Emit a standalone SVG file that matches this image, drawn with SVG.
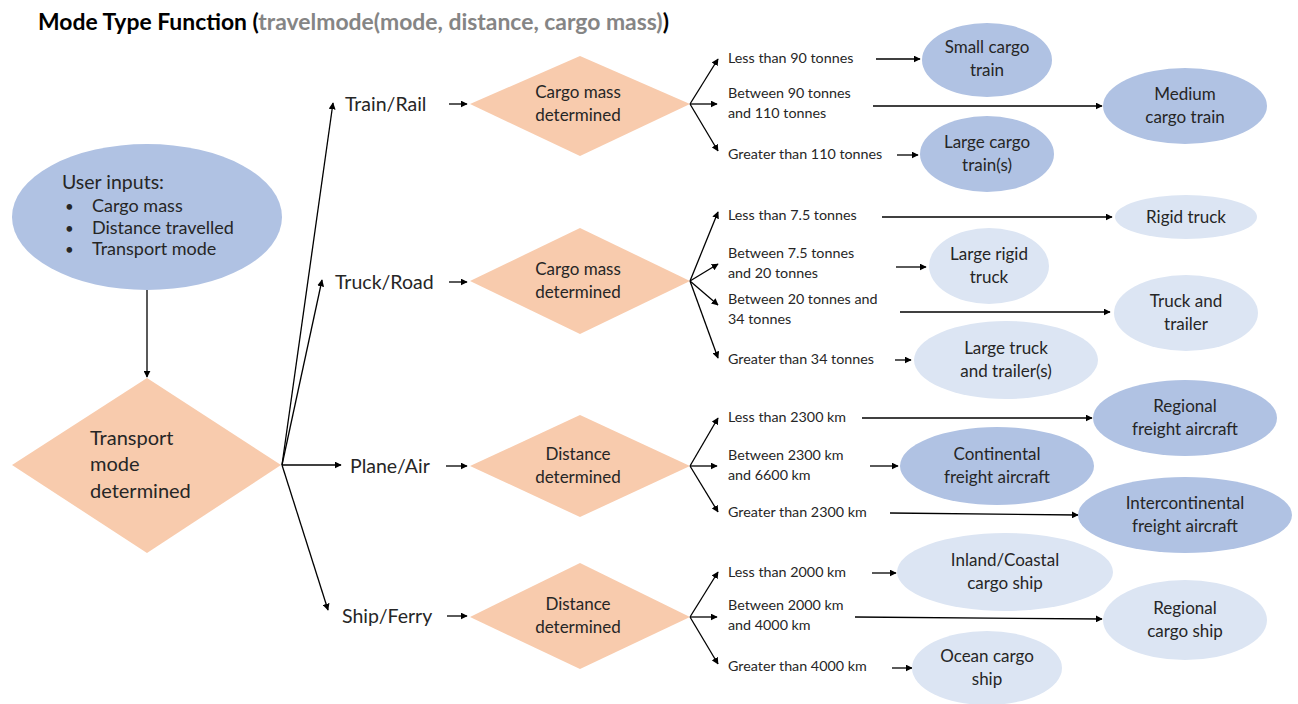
<svg xmlns="http://www.w3.org/2000/svg" width="1298" height="704" viewBox="0 0 1298 704">
  <defs>
    <marker id="arrow" viewBox="0 0 10 10" refX="9" refY="5" markerWidth="7" markerHeight="7" markerUnits="userSpaceOnUse" orient="auto">
      <path d="M0,0 L10,5 L0,10 z" fill="#000"/>
    </marker>
    <style>
      text { font-family: Lato, "Open Sans", "Liberation Sans", sans-serif; fill: #262626; }
      .title { font-size: 22.9px; font-weight: bold; fill: #000; }
      .gray { fill: #858585; }
      .dark { fill: #b0c2e3; }
      .light { fill: #dce5f3; }
      .diamond { fill: #f8cbad; }
      .node { font-size: 17px; text-anchor: middle; }
      .mode { font-size: 19.5px; }
      .dec { font-size: 17px; text-anchor: middle; }
      .cond { font-size: 14.3px; }
      .conn line { stroke: #000; stroke-width: 1.3; fill: none; marker-end: url(#arrow); }
    </style>
  </defs>
  <rect width="1298" height="704" fill="#fff"/>

  <!-- heading -->
  <text class="title" x="38" y="30">Mode Type Function (<tspan class="gray">travelmode(mode, distance, cargo mass)</tspan>)</text>

  <!-- connectors -->
  <g id="connectors" class="conn">
    <line x1="147" y1="290" x2="147" y2="377"/>
    <line x1="282" y1="465" x2="333" y2="103"/>
    <line x1="282" y1="465" x2="322" y2="280"/>
    <line x1="282" y1="465" x2="341" y2="465"/>
    <line x1="282" y1="465" x2="328" y2="610"/>
    <line x1="449" y1="104" x2="467" y2="104"/>
    <line x1="449" y1="282" x2="467" y2="282"/>
    <line x1="446" y1="466" x2="467" y2="466"/>
    <line x1="447" y1="616" x2="467" y2="616"/>
    <!-- rail branches -->
    <line x1="690" y1="104" x2="718" y2="59"/>
    <line x1="690" y1="104" x2="717" y2="104"/>
    <line x1="690" y1="104" x2="718" y2="151"/>
    <line x1="876" y1="59" x2="920" y2="59"/>
    <line x1="873" y1="106" x2="1102" y2="106"/>
    <line x1="897" y1="155" x2="918" y2="155"/>
    <!-- road branches -->
    <line x1="690" y1="281" x2="718" y2="212"/>
    <line x1="690" y1="281" x2="718" y2="264"/>
    <line x1="690" y1="281" x2="718" y2="305"/>
    <line x1="690" y1="281" x2="718" y2="358"/>
    <line x1="882" y1="217" x2="1112" y2="217"/>
    <line x1="896" y1="267" x2="926" y2="267"/>
    <line x1="900" y1="312" x2="1110" y2="312"/>
    <line x1="895" y1="360" x2="911" y2="360"/>
    <!-- air branches -->
    <line x1="690" y1="466" x2="718" y2="418"/>
    <line x1="690" y1="466" x2="717" y2="466"/>
    <line x1="690" y1="466" x2="718" y2="512"/>
    <line x1="862" y1="418" x2="1092" y2="418"/>
    <line x1="870" y1="466" x2="898" y2="466"/>
    <line x1="890" y1="513" x2="1078" y2="515"/>
    <!-- sea branches -->
    <line x1="690" y1="617" x2="718" y2="572"/>
    <line x1="690" y1="617" x2="717" y2="617"/>
    <line x1="690" y1="617" x2="718" y2="664"/>
    <line x1="872" y1="573" x2="896" y2="573"/>
    <line x1="855" y1="617" x2="1102" y2="619"/>
    <line x1="892" y1="668" x2="912" y2="668"/>
  </g>

  <!-- inputs -->
  <g id="user-inputs">
    <ellipse class="dark" cx="147" cy="217" rx="135" ry="73"/>
    <text x="62" y="189" style="font-size:19.5px">User inputs:</text>
    <text x="65" y="212" style="font-size:15px">•</text>
    <text x="65" y="234" style="font-size:15px">•</text>
    <text x="65" y="255" style="font-size:15px">•</text>
    <text x="92" y="212" style="font-size:18px">Cargo mass</text>
    <text x="92" y="234" style="font-size:18px">Distance travelled</text>
    <text x="92" y="255" style="font-size:18px">Transport mode</text>
  </g>

  <g id="transport-mode">
    <polygon class="diamond" points="147,378 281,465 147,553 12,465"/>
    <text x="90" y="445" style="font-size:20px">Transport</text>
    <text x="90" y="471" style="font-size:20px">mode</text>
    <text x="90" y="498" style="font-size:20px">determined</text>
  </g>

  <!-- mode labels -->
  <g id="mode-rail"><text class="mode" x="345" y="111">Train/Rail</text></g>
  <g id="mode-road"><text class="mode" x="335" y="289">Truck/Road</text></g>
  <g id="mode-air"><text class="mode" x="350" y="473">Plane/Air</text></g>
  <g id="mode-sea"><text class="mode" x="342" y="623">Ship/Ferry</text></g>

  <!-- decision diamonds -->
  <g id="rail-decision">
    <polygon class="diamond" points="580,56 690,104 580,156 470,104"/>
    <text class="dec" x="578" y="98">Cargo mass</text>
    <text class="dec" x="578" y="121">determined</text>
  </g>
  <g id="road-decision">
    <polygon class="diamond" points="580,228 690,281 580,334 470,281"/>
    <text class="dec" x="578" y="275">Cargo mass</text>
    <text class="dec" x="578" y="298">determined</text>
  </g>
  <g id="air-decision">
    <polygon class="diamond" points="580,415 690,466 580,517 470,466"/>
    <text class="dec" x="578" y="460">Distance</text>
    <text class="dec" x="578" y="483">determined</text>
  </g>
  <g id="sea-decision">
    <polygon class="diamond" points="580,563 690,617 580,669 470,617"/>
    <text class="dec" x="578" y="610">Distance</text>
    <text class="dec" x="578" y="633">determined</text>
  </g>

  <!-- condition labels -->
  <g id="rail-conditions">
    <text class="cond" x="728" y="63">Less than 90 tonnes</text>
    <text class="cond" x="728" y="98">Between 90 tonnes</text>
    <text class="cond" x="728" y="118">and 110 tonnes</text>
    <text class="cond" x="728" y="159">Greater than 110 tonnes</text>
  </g>
  <g id="road-conditions">
    <text class="cond" x="728" y="220">Less than 7.5 tonnes</text>
    <text class="cond" x="728" y="258">Between 7.5 tonnes</text>
    <text class="cond" x="728" y="278">and 20 tonnes</text>
    <text class="cond" x="728" y="304">Between 20 tonnes and</text>
    <text class="cond" x="728" y="324">34 tonnes</text>
    <text class="cond" x="728" y="364">Greater than 34 tonnes</text>
  </g>
  <g id="air-conditions">
    <text class="cond" x="728" y="422">Less than 2300 km</text>
    <text class="cond" x="728" y="460">Between 2300 km</text>
    <text class="cond" x="728" y="480">and 6600 km</text>
    <text class="cond" x="728" y="517">Greater than 2300 km</text>
  </g>
  <g id="sea-conditions">
    <text class="cond" x="728" y="577">Less than 2000 km</text>
    <text class="cond" x="728" y="610">Between 2000 km</text>
    <text class="cond" x="728" y="630">and 4000 km</text>
    <text class="cond" x="728" y="671">Greater than 4000 km</text>
  </g>

  <!-- rail outcomes -->
  <g id="small-cargo-train">
    <ellipse class="dark" cx="987" cy="60" rx="65" ry="37"/>
    <text class="node" x="987" y="53">Small cargo</text>
    <text class="node" x="987" y="76">train</text>
  </g>
  <g id="medium-cargo-train">
    <ellipse class="dark" cx="1185" cy="106" rx="82" ry="38"/>
    <text class="node" x="1185" y="100">Medium</text>
    <text class="node" x="1185" y="123">cargo train</text>
  </g>
  <g id="large-cargo-train">
    <ellipse class="dark" cx="987" cy="154" rx="67" ry="38"/>
    <text class="node" x="987" y="148">Large cargo</text>
    <text class="node" x="987" y="171">train(s)</text>
  </g>

  <!-- road outcomes -->
  <g id="rigid-truck">
    <ellipse class="light" cx="1186" cy="217" rx="71" ry="22"/>
    <text class="node" x="1186" y="223">Rigid truck</text>
  </g>
  <g id="large-rigid-truck">
    <ellipse class="light" cx="989" cy="266" rx="60" ry="38"/>
    <text class="node" x="989" y="260">Large rigid</text>
    <text class="node" x="989" y="283">truck</text>
  </g>
  <g id="truck-and-trailer">
    <ellipse class="light" cx="1186" cy="313" rx="72" ry="38"/>
    <text class="node" x="1186" y="307">Truck and</text>
    <text class="node" x="1186" y="330">trailer</text>
  </g>
  <g id="large-truck-trailer">
    <ellipse class="light" cx="1006" cy="360" rx="92" ry="39"/>
    <text class="node" x="1006" y="354">Large truck</text>
    <text class="node" x="1006" y="377">and trailer(s)</text>
  </g>

  <!-- air outcomes -->
  <g id="regional-freight-aircraft">
    <ellipse class="dark" cx="1185" cy="418" rx="92" ry="38"/>
    <text class="node" x="1185" y="412">Regional</text>
    <text class="node" x="1185" y="435">freight aircraft</text>
  </g>
  <g id="continental-freight-aircraft">
    <ellipse class="dark" cx="997" cy="466" rx="97" ry="39"/>
    <text class="node" x="997" y="460">Continental</text>
    <text class="node" x="997" y="483">freight aircraft</text>
  </g>
  <g id="intercontinental-freight-aircraft">
    <ellipse class="dark" cx="1185" cy="515" rx="107" ry="38"/>
    <text class="node" x="1185" y="509">Intercontinental</text>
    <text class="node" x="1185" y="532">freight aircraft</text>
  </g>

  <!-- sea outcomes -->
  <g id="inland-coastal-ship">
    <ellipse class="light" cx="1005" cy="572" rx="108" ry="39"/>
    <text class="node" x="1005" y="566">Inland/Coastal</text>
    <text class="node" x="1005" y="589">cargo ship</text>
  </g>
  <g id="regional-cargo-ship">
    <ellipse class="light" cx="1185" cy="620" rx="82" ry="40"/>
    <text class="node" x="1185" y="614">Regional</text>
    <text class="node" x="1185" y="637">cargo ship</text>
  </g>
  <g id="ocean-cargo-ship">
    <ellipse class="light" cx="987" cy="668" rx="75" ry="37"/>
    <text class="node" x="987" y="662">Ocean cargo</text>
    <text class="node" x="987" y="685">ship</text>
  </g>
</svg>
